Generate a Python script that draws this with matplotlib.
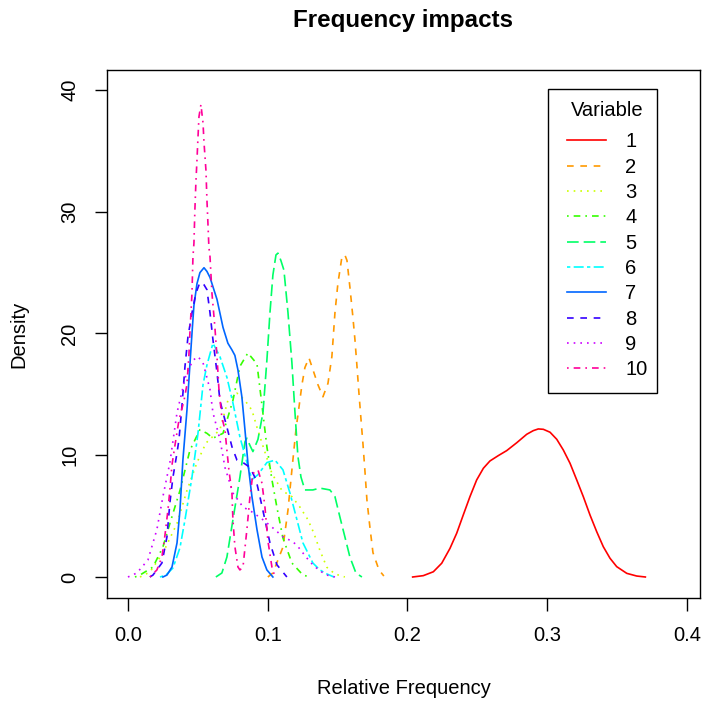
import numpy as np
import matplotlib
matplotlib.use("Agg")
import matplotlib.pyplot as plt
from matplotlib.patches import Rectangle

# densidade de cada variavel
x1 = [0.2037, 0.2113, 0.2185, 0.2245, 0.2304, 0.2352, 0.2399, 0.2447, 0.2495, 0.2543, 0.2590,
      0.2650, 0.2710, 0.2782, 0.2853, 0.2900, 0.2936, 0.2972, 0.3020, 0.3068, 0.3115, 0.3163,
      0.3211, 0.3258, 0.3306, 0.3354, 0.3401, 0.3449, 0.3497, 0.3569, 0.3640, 0.3702]
y1 = [0, 0.11, 0.43, 1.13, 2.35, 3.59, 5.09, 6.6, 7.97, 8.93, 9.53,
      9.97, 10.38, 11.03, 11.72, 12.02, 12.16, 12.13, 11.89, 11.31, 10.43, 9.34,
      7.97, 6.6, 5.09, 3.72, 2.49, 1.54, 0.85, 0.30, 0.08, 0]

x2 = [0.1001, 0.1037, 0.1109, 0.1145, 0.1173, 0.1202, 0.1223, 0.1245, 0.1266, 0.1295, 0.1330,
      0.1359, 0.1395, 0.1431, 0.1459, 0.1481, 0.1502, 0.1531, 0.1552, 0.1567, 0.1588, 0.1609,
      0.1624, 0.1638, 0.1652, 0.1667, 0.1681, 0.1695, 0.1710, 0.1731, 0.1753, 0.1796, 0.1831]
y2 = [0, 0.33, 2.46, 5.5, 8.8, 12.1, 13.9, 15.8, 17.2, 18.0, 16.8,
      15.8, 14.8, 15.9, 18.1, 21.7, 24.1, 26.3, 26.45, 26.0, 23.8, 21.4,
      19.5, 17.4, 15.2, 13.0, 11.0, 8.8, 6.3, 4.1, 2.0, 0.58, 0.08]

x3 = [0.0086, 0.0157, 0.0250, 0.0351, 0.0422, 0.0494, 0.0558, 0.0658, 0.0715, 0.0780, 0.0837,
      0.0887, 0.0923, 0.0959, 0.1030, 0.1102, 0.1173, 0.1230, 0.1288, 0.1330, 0.1373, 0.1423,
      0.1481, 0.1552]
y3 = [0, 0.41, 1.97, 4.4, 7.1, 9.4, 11.0, 12.1, 14.5, 15.1, 14.5,
      13.7, 12.3, 11.0, 8.5, 7.1, 6.6, 5.75, 4.7, 3.6, 2.2, 0.8,
      0.25, 0]

x4 = [0.0050, 0.0086, 0.0179, 0.0250, 0.0300, 0.0372, 0.0443, 0.0515, 0.0565, 0.0608, 0.0680,
      0.0751, 0.0801, 0.0858, 0.0923, 0.0959, 0.0994, 0.1030, 0.1066, 0.1109, 0.1173, 0.1252,
      0.1302]
y4 = [0, 0.16, 0.82, 2.46, 4.4, 7.1, 10.4, 12.1, 11.8, 11.4, 11.8,
      14.5, 17.3, 18.4, 17.5, 14.1, 10.7, 8.0, 5.7, 3.2, 1.15, 0.16,
      0]

x5 = [0.0629, 0.0672, 0.0708, 0.0751, 0.0801, 0.0837, 0.0851, 0.0873, 0.0894, 0.0930, 0.0966,
      0.0994, 0.1016, 0.1037, 0.1059, 0.1073, 0.1094, 0.1116, 0.1145, 0.1173, 0.1195, 0.1216,
      0.1238, 0.1266, 0.1323, 0.1373, 0.1445, 0.1481, 0.1517, 0.1552, 0.1588, 0.1631, 0.1674]
y5 = [0, 0.33, 1.64, 4.7, 8.2, 11.1, 11.4, 10.8, 10.3, 11.3, 13.5,
      17.8, 21.7, 24.8, 26.45, 26.6, 26.0, 25.2, 21.7, 17.6, 13.5, 9.9,
      8.2, 7.15, 7.15, 7.3, 7.15, 6.6, 4.9, 3.3, 1.64, 0.33, 0]

x6 = [0.0229, 0.0272, 0.0322, 0.0372, 0.0408, 0.0458, 0.0501, 0.0537, 0.0565, 0.0608, 0.0658,
      0.0708, 0.0751, 0.0801, 0.0851, 0.0887, 0.0930, 0.0994, 0.1052, 0.1109, 0.1159, 0.1209,
      0.1252, 0.1323, 0.1373, 0.1423, 0.1474]
y6 = [0, 0.16, 0.74, 2.4, 4.7, 8.2, 11.8, 15.8, 17.4, 19.2, 18.1,
      16.4, 14.3, 11.5, 9.4, 8.0, 8.4, 9.4, 9.6, 8.8, 6.9, 4.7,
      2.8, 1.15, 0.58, 0.25, 0]

x7 = [0.0250, 0.0279, 0.0315, 0.0351, 0.0372, 0.0393, 0.0422, 0.0443, 0.0458, 0.0472, 0.0494,
      0.0515, 0.0544, 0.0565, 0.0587, 0.0637, 0.0680, 0.0715, 0.0744, 0.0765, 0.0787, 0.0815,
      0.0837, 0.0858, 0.0887, 0.0923, 0.0959, 0.0994, 0.1037]
y7 = [0, 0.16, 0.82, 2.8, 5.5, 9.6, 13.7, 17.4, 20.0, 22.3, 24.1,
      25.0, 25.4, 25.1, 24.6, 22.8, 20.5, 19.2, 18.65, 18.2, 17.0, 14.8,
      12.1, 9.4, 6.6, 3.9, 1.64, 0.58, 0]

x8 = [0.0157, 0.0179, 0.0243, 0.0279, 0.0300, 0.0322, 0.0351, 0.0365, 0.0386, 0.0408, 0.0429,
      0.0458, 0.0486, 0.0515, 0.0544, 0.0565, 0.0587, 0.0608, 0.0637, 0.0658, 0.0680, 0.0708,
      0.0744, 0.0780, 0.0823, 0.0873, 0.0916, 0.0944, 0.0980, 0.1016, 0.1066, 0.1137]
y8 = [0, 0.16, 1.15, 3.3, 6.1, 8.2, 10.2, 11.3, 14.0, 17.3, 19.7,
      21.7, 23.3, 24.2, 24.0, 23.6, 21.7, 19.5, 16.8, 14.5, 13.5, 12.3,
      10.7, 9.6, 9.4, 9.0, 8.0, 6.6, 4.7, 2.8, 1.0, 0]

x9 = [0.0, 0.0064, 0.0143, 0.0207, 0.0250, 0.0300, 0.0351, 0.0415, 0.0465, 0.0501, 0.0537,
      0.0587, 0.0608, 0.0658, 0.0694, 0.0751, 0.0823, 0.0894, 0.0966, 0.1030, 0.1109, 0.1180,
      0.1216, 0.1280, 0.1323, 0.1373, 0.1423, 0.1481]
y9 = [0, 0.33, 1.4, 3.9, 6.6, 9.4, 13.5, 16.6, 17.8, 18.1, 17.6,
      15.4, 13.5, 11.3, 9.0, 6.9, 5.75, 5.3, 4.7, 4.1, 3.3, 2.9,
      2.5, 1.56, 1.0, 0.5, 0.16, 0]

x10 = [0.0157, 0.0207, 0.0243, 0.0265, 0.0286, 0.0300, 0.0315, 0.0336, 0.0365, 0.0401, 0.0422,
       0.0436, 0.0443, 0.0458, 0.0465, 0.0472, 0.0479, 0.0486, 0.0494, 0.0501, 0.0508, 0.0522,
       0.0537, 0.0544, 0.0558, 0.0565, 0.0572, 0.0579, 0.0587, 0.0601, 0.0622, 0.0637, 0.0651,
       0.0672, 0.0694, 0.0708, 0.0722, 0.0744, 0.0751, 0.0765, 0.0787, 0.0801, 0.0823, 0.0851,
       0.0873, 0.0894, 0.0930, 0.0959, 0.0980, 0.1001, 0.1030, 0.1052]
y10 = [0, 0.58, 1.64, 3.45, 5.5, 7.15, 9.2, 10.8, 12.9, 14.5, 15.8,
       18.2, 20.0, 23.3, 26.3, 27.4, 30.2, 32.4, 34.3, 36.1, 37.8, 38.8,
       37.3, 35.7, 33.4, 31.0, 29.1, 27.1, 26.3, 23.3, 20.5, 18.1, 15.4,
       13.1, 12.1, 10.4, 8.8, 6.9, 4.7, 2.5, 0.82, 0.58, 0.82, 3.9,
       6.6, 8.5, 8.8, 7.7, 5.75, 3.0, 0.82, 0]

xs = [x1, x2, x3, x4, x5, x6, x7, x8, x9, x10]
ys = [y1, y2, y3, y4, y5, y6, y7, y8, y9, y10]
nomes = ["1", "2", "3", "4", "5", "6", "7", "8", "9", "10"]
cores = ["#FF0000", "#FF9900", "#CCFF00", "#33FF00", "#00FF66",
         "#00FFFF", "#0066FF", "#3300FF", "#CC00FF", "#FF0099"]

# tipos de linha do R (lty 1..6), em pontos
u = 1.2
estilos = {
    1: "-",
    2: (0, (4*u, 4*u)),
    3: (0, (1*u, 3*u)),
    4: (0, (1*u, 3*u, 4*u, 3*u)),
    5: (0, (7*u, 3*u)),
    6: (0, (2*u, 2*u, 6*u, 2*u)),
}

plt.rcParams["font.family"] = ["Liberation Sans", "DejaVu Sans"]
plt.rcParams["lines.scale_dashes"] = False

fig = plt.figure(figsize=(7.02, 7.02), dpi=100)
ax = fig.add_axes([107/702, 1-598/702, (700-107)/702, (598-70)/702])

for i in range(10):
    lty = (i % 6) + 1
    ax.plot(xs[i], ys[i], color=cores[i], lw=1.2, linestyle=estilos[lty], label=nomes[i])

ax.set_xlim(-0.015, 0.4093)
ax.set_ylim(-1.725, 41.64)
ax.set_xticks([0.0, 0.1, 0.2, 0.3, 0.4])
ax.set_xticklabels(["0.0", "0.1", "0.2", "0.3", "0.4"])
ax.set_yticks([0, 10, 20, 30, 40])
ax.set_yticklabels(["0", "10", "20", "30", "40"], rotation=90, va="center")
ax.tick_params(length=9, width=1, labelsize=14.5, pad=11)
for s in ax.spines.values():
    s.set_linewidth(1)

# legenda no estilo do R: caixa desenhada a parte
leg = ax.legend(title="Variable", loc="upper left",
                bbox_to_anchor=(567/702, 1-101/702), bbox_transform=fig.transFigure,
                fontsize=14.5, title_fontsize=14.5, frameon=False, borderaxespad=0,
                handlelength=1.95, handletextpad=0.95, labelspacing=0.315,
                borderpad=0)
leg._legend_box.sep = 8.9
fig.add_artist(Rectangle((548/702, 1-393/702), 109/702, 304/702, fill=False,
                         edgecolor="black", lw=1, transform=fig.transFigure))

fig.text(403.5/702, 1-20/702, "Frequency impacts", ha="center", va="center",
         fontsize=17.4, fontweight="bold")
fig.text(403.5/702, 1-688/702, "Relative Frequency", ha="center", va="center", fontsize=14.5)
fig.text(19/702, 1-334/702, "Density", ha="center", va="center", fontsize=14.5, rotation=90)

fig.savefig("out.png", dpi=100)
